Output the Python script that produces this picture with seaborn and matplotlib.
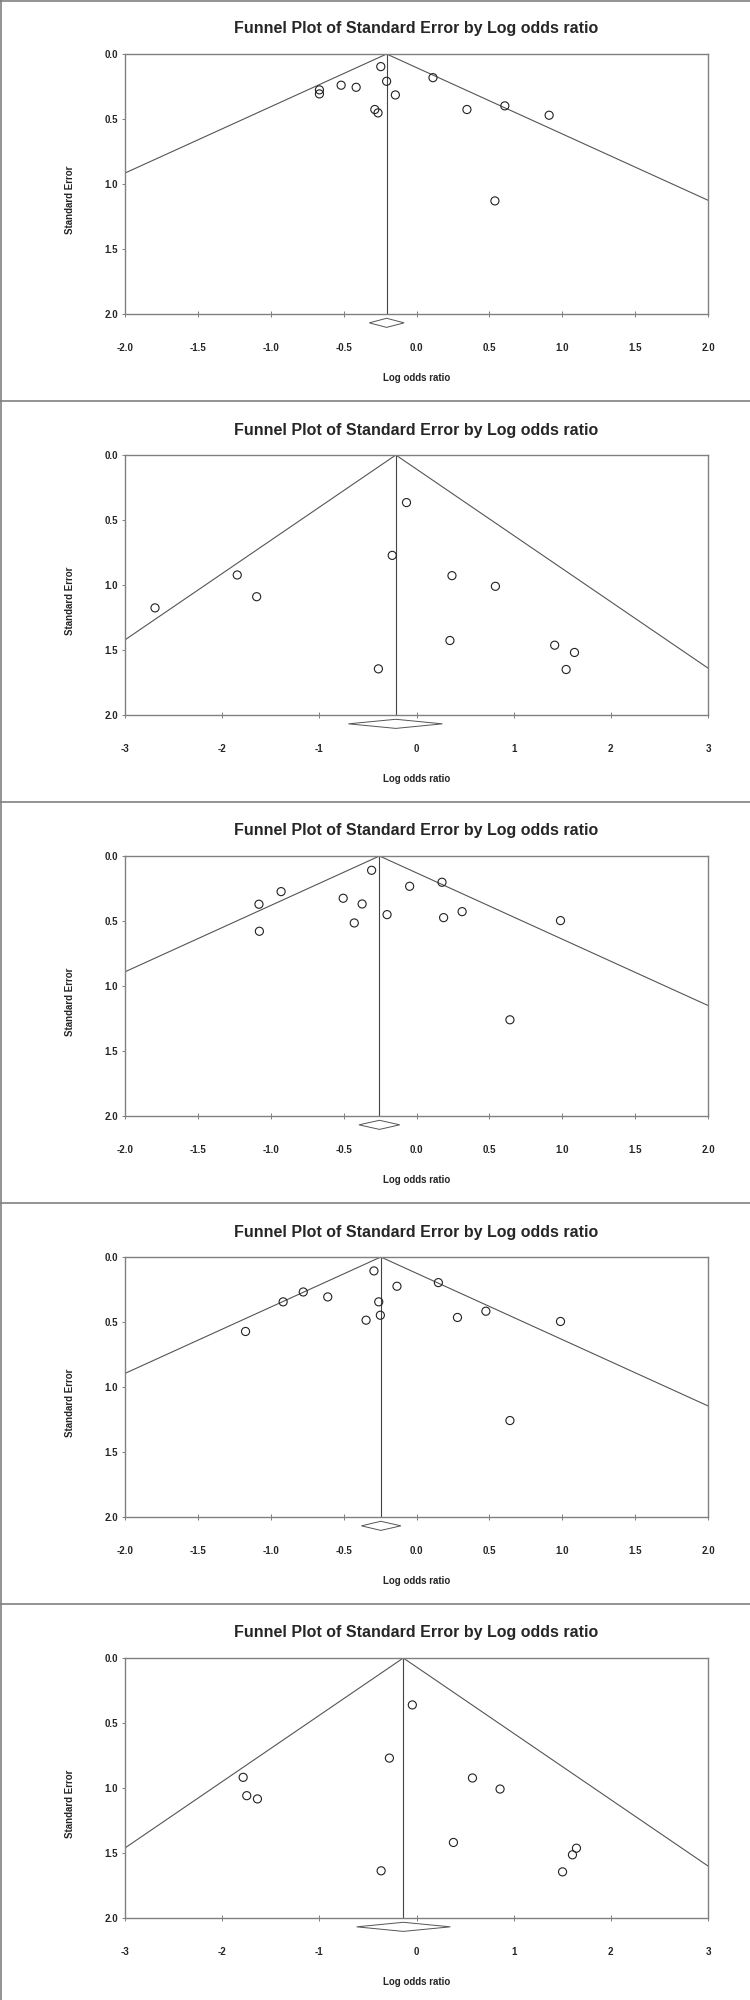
import numpy as np
import pandas as pd
import matplotlib
matplotlib.use("Agg")
import matplotlib.pyplot as plt
from matplotlib.lines import Line2D
import seaborn as sns

# --- DATA ---
# panel 1
p1_lor = [-0.666, -0.666, -0.517, -0.414, -0.245, -0.205, -0.145, -0.286, -0.264,
          0.113, 0.346, 0.606, 0.910, 0.538]
p1_se = [0.276, 0.307, 0.240, 0.256, 0.097, 0.210, 0.315, 0.427, 0.453,
         0.182, 0.427, 0.399, 0.471, 1.130]
# panel 2
p2_lor = [-2.691, -1.845, -1.645, -0.103, -0.250, -0.392, 0.365, 0.344, 0.812,
          1.422, 1.626, 1.540]
p2_se = [1.176, 0.923, 1.090, 0.366, 0.772, 1.645, 0.928, 1.427, 1.010,
         1.463, 1.519, 1.650]
# panel 3
p3_lor = [-1.081, -0.929, -1.078, -0.503, -0.373, -0.427, -0.308, -0.202, -0.047,
          0.175, 0.186, 0.313, 0.988, 0.641]
p3_se = [0.371, 0.274, 0.579, 0.325, 0.369, 0.515, 0.110, 0.451, 0.233,
         0.202, 0.474, 0.428, 0.497, 1.260]
# panel 4
p4_lor = [-1.173, -0.915, -0.777, -0.609, -0.292, -0.259, -0.346, -0.248, -0.134,
          0.150, 0.281, 0.476, 0.988, 0.641]
p4_se = [0.573, 0.345, 0.269, 0.307, 0.107, 0.345, 0.486, 0.448, 0.225,
         0.197, 0.465, 0.417, 0.496, 1.258]
# panel 5
p5_lor = [-1.784, -1.747, -1.637, -0.043, -0.279, -0.364, 0.576, 0.860, 0.380,
          1.646, 1.605, 1.503]
p5_se = [0.918, 1.059, 1.084, 0.361, 0.770, 1.637, 0.923, 1.008, 1.419,
         1.463, 1.514, 1.645]

pooled = [-0.205, -0.213, -0.254, -0.245, -0.136]
ci_low = [-0.324, -0.701, -0.395, -0.378, -0.616]
ci_high = [-0.085, 0.267, -0.115, -0.107, 0.348]
x_limits = [2, 3, 2, 2, 3]
x_tick_step = [0.5, 1, 0.5, 0.5, 1]
y_ticks = [0.0, 0.5, 1.0, 1.5, 2.0]

title = "Funnel Plot of Standard Error by Log odds ratio"
xlabel = "Log odds ratio"
ylabel = "Standard Error"

panels = [(p1_lor, p1_se), (p2_lor, p2_se), (p3_lor, p3_se), (p4_lor, p4_se), (p5_lor, p5_se)]

sns.set_theme(style="white")
plt.rcParams['font.family'] = ['Liberation Sans', 'DejaVu Sans']

W, H = 750, 2000
fig = plt.figure(figsize=(W / 100, H / 100), dpi=100)

spine_col = "#808080"
line_col = "#555555"

for k, (lor, se) in enumerate(panels):
    top = 54 + 401 * k
    ax = fig.add_axes([125 / W, 1 - (top + 260) / H, 583 / W, 260 / H])
    lim = x_limits[k]
    c = pooled[k]

    df = pd.DataFrame({"lor": lor, "se": se})
    sns.scatterplot(data=df, x="lor", y="se", ax=ax, s=34, marker="o",
                    facecolor="none", edgecolor="#222222", linewidth=0.8, zorder=3)

    # funnel (95% pseudo confidence limits) and pooled estimate line
    se_grid = np.array([0.0, 2.0])
    ax.plot(c - 1.96 * se_grid, se_grid, color=line_col, lw=0.8)
    ax.plot(c + 1.96 * se_grid, se_grid, color=line_col, lw=0.8)
    ax.plot([c, c], [0, 2], color="#444444", lw=0.8)

    # summary diamond below the axis
    yd, hd = 2.068, 0.035
    ax.fill([ci_low[k], c, ci_high[k], c, ci_low[k]],
            [yd, yd - hd, yd, yd + hd, yd],
            facecolor="white", edgecolor="#555555", lw=0.7, clip_on=False, zorder=4)

    ax.set_xlim(-lim, lim)
    ax.set_ylim(2, 0)
    xt = np.arange(-lim, lim + 0.001, x_tick_step[k])
    ax.set_xticks(xt)
    if x_tick_step[k] < 1:
        ax.set_xticklabels([f"{v:.1f}" for v in xt])
    else:
        ax.set_xticklabels([f"{v:.0f}" for v in xt])
    ax.set_yticks(y_ticks)
    ax.set_yticklabels([f"{v:.1f}" for v in y_ticks])

    for sp in ax.spines.values():
        sp.set_color(spine_col)
        sp.set_linewidth(1.0)
    ax.tick_params(axis="x", direction="inout", length=4, width=0.7, color=spine_col,
                   pad=19, labelsize=7, bottom=True)
    ax.tick_params(axis="y", direction="out", length=2, width=0.7, color=spine_col,
                   pad=3, labelsize=7, left=True)
    for lab in ax.get_xticklabels() + ax.get_yticklabels():
        lab.set_fontweight("bold")

    ax.set_xlabel("")
    ax.set_ylabel("")
    fig.text(416.5 / W, 1 - (top - 25) / H, title, ha="center", va="center",
             fontsize=11.5, fontweight="bold")
    fig.text(416.5 / W, 1 - (top + 324) / H, xlabel, ha="center", va="center",
             fontsize=7, fontweight="bold")
    fig.text(70 / W, 1 - (top + 146) / H, ylabel, ha="center", va="center",
             rotation=90, fontsize=7, fontweight="bold")

# panel frames
fig.add_artist(Line2D([0, 1], [1 - 1 / H, 1 - 1 / H], color=spine_col, lw=1.2))
fig.add_artist(Line2D([1 / W, 1 / W], [0, 1], color=spine_col, lw=1.2))
for k in range(1, 5):
    y = 1 - (401 * k) / H
    fig.add_artist(Line2D([0, 1], [y, y], color=spine_col, lw=1.2))

fig.savefig("out.png", dpi=100)
